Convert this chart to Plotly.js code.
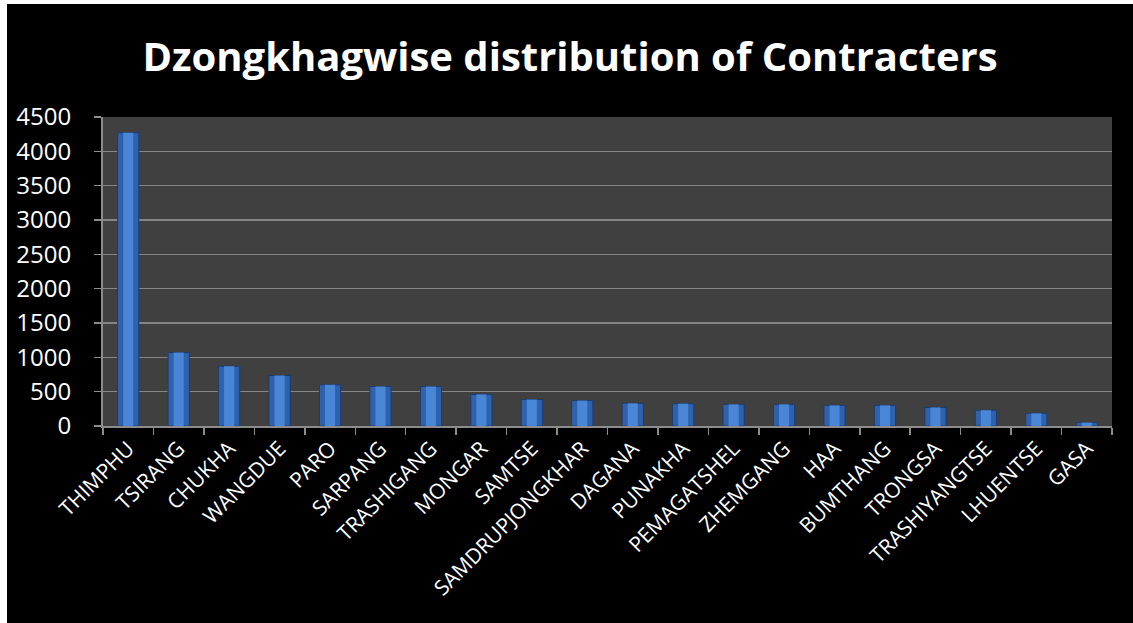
<!DOCTYPE html>
<html><head><meta charset="utf-8">
<script src="https://cdn.plot.ly/plotly-3.0.1.min.js"></script>
<style>
html,body{margin:0;padding:0;background:#ffffff;width:1133px;height:623px;overflow:hidden;}
#chart{position:absolute;left:7px;top:4px;width:1126px;height:619px;}
</style></head>
<body><div id="chart"></div>
<script>
const districts = ["THIMPHU","TSIRANG","CHUKHA","WANGDUE","PARO","SARPANG","TRASHIGANG","MONGAR","SAMTSE","SAMDRUPJONGKHAR","DAGANA","PUNAKHA","PEMAGATSHEL","ZHEMGANG","HAA","BUMTHANG","TRONGSA","TRASHIYANGTSE","LHUENTSE","GASA"];
const contractors = [4270, 1070, 870, 735, 600, 575, 575, 460, 385, 370, 330, 325, 315, 315, 300, 300, 270, 230, 185, 50];
const yTicks = [0, 500, 1000, 1500, 2000, 2500, 3000, 3500, 4000, 4500];

const traces = [
  {type:"bar", x:districts, y:contractors, width:0.42,
   marker:{color:"#2f62ad", line:{color:"#1d3c6e", width:1}}, hoverinfo:"x+y"},
  {type:"bar", x:districts, y:contractors, width:0.2,
   marker:{color:"#4a86d6"}, hoverinfo:"skip"}
];

const layout = {
  width:1126, height:619,
  paper_bgcolor:"#000000", plot_bgcolor:"#404040",
  margin:{l:96, r:21, t:113, b:197},
  barmode:"overlay", showlegend:false,
  title:{text:"<b>Dzongkhagwise distribution of Contracters</b>",
         font:{family:"Open Sans", size:40, color:"#ffffff"},
         x:0.5, xanchor:"center", y:0.915, yanchor:"middle"},
  xaxis:{type:"category", tickangle:-45, tickson:"boundaries",
         ticks:"outside", ticklen:7, tickcolor:"#8c8c8c", tickwidth:1.5,
         showline:true, linecolor:"#8c8c8c", linewidth:2,
         showgrid:false,
         tickfont:{family:"Open Sans", size:21, color:"#ffffff"}},
  yaxis:{range:[0,4500], tickvals:yTicks, ticktext:yTicks.map(String),
         ticks:"outside", ticklen:7, tickcolor:"#8c8c8c", tickwidth:1.5,
         showline:true, linecolor:"#8c8c8c", linewidth:2,
         gridcolor:"#858585", gridwidth:1.5, zeroline:false,
         ticklabelstandoff:18,
         tickfont:{family:"Open Sans", size:24, color:"#ffffff"}}
};
Plotly.newPlot("chart", traces, layout, {displayModeBar:false, staticPlot:true});
</script></body></html>
